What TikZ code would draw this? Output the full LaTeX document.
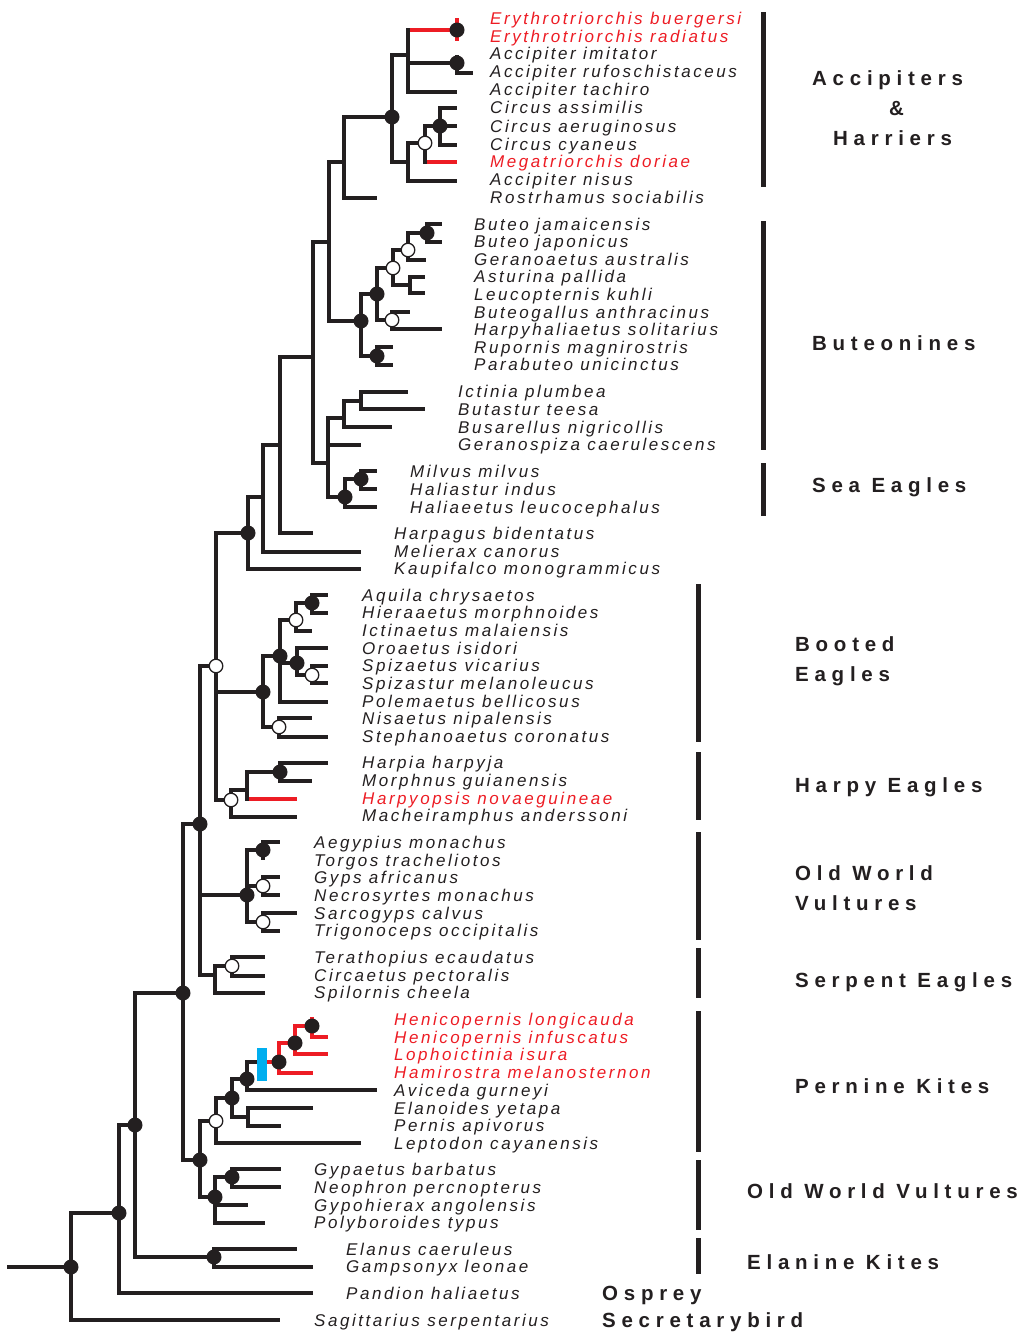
\documentclass[tikz,border=0pt]{standalone}
\usepackage{fontspec}
\setmainfont{Liberation Sans}
\newfontfamily\spfont{Liberation Sans}[LetterSpace=15]
\newfontfamily\grfont{Liberation Sans}[LetterSpace=28]
\definecolor{treeblack}{RGB}{35,31,32}
\definecolor{treered}{RGB}{237,28,36}
\definecolor{treeblue}{RGB}{0,174,239}
\tikzset{
  branch/.style={line width=3.4pt, draw=treeblack},
  redbranch/.style={line width=3.4pt, draw=treered},
  fullnode/.style={fill=treeblack},
  emptynode/.style={fill=white, draw=treeblack, line width=1.3pt},
  species/.style={font=\spfont\itshape\fontsize{17}{17}\selectfont, anchor=base west, inner sep=0pt, text=treeblack},
  group/.style={font=\grfont\bfseries\fontsize{20.5}{20.5}\selectfont, anchor=base west, inner sep=0pt, text=treeblack},
  cladebar/.style={line width=5pt, draw=treeblack}
}
\begin{document}
\begin{tikzpicture}[x=1pt, y=-1pt]
\useasboundingbox (0,0) rectangle (1036,1334);
\foreach \n/\x/\y in {stem/7/1267, R0/71/1267, sag/280/1320, n1/119/1213, pan/313/1293, n2/135/1125,
  e1/214/1257, ela/297/1249, gam/313/1267, n3/183/993, n4/200/824, n5/200/1160,
  pk0/216/1121, gy0/215/1197, gy1/232/1177, gyp/281/1169, neo/281/1187, gyh/248/1205, pol/265/1223,
  pk1/232/1098, lep/361/1143, pk2/247/1079, pk3/248/1117, eld/313/1108, per/281/1126, avi/377/1090,
  pk4/279/1062, pk5/295/1043, pk6/312/1026, ham/313/1073, lop/328/1054, hel/312/1017, hei/328/1037,
  ha0/216/666, ow0/247/895, se0/215/975, se1/232/966, ter/265/957, cir/265/976, spi/265/993,
  ow1/263/850, ow2/263/886, ow3/263/922, aeg/280/842, tor/263/860, gyps/280/877, nec/280/895,
  sar/297/913, tri/280/931, ka0/248/533, bo0/263/692, hp0/231/800, hp1/247/790, mac/297/817,
  hpy/297/799, hp2/280/772, hrp/328/763, mor/312/781, bo1/280/656, bo2/279/727, nsa/312/718,
  ste/328/737, bo3/296/620, bo4/297/663, plm/328/702, bo5/312/603, ictn/312/631, aqu/328/595,
  hie/328/613, oro/328/648, bo6/312/675, spv/328/666, spz/328/683, ka1/263/497, kau/361/569,
  ka2/280/445, mel/361/552, ka3/313/357, hpg/313/533, ac0/329/242, ic0/328/463, ic1/344/418,
  ger/361/445, sea0/345/497, ic2/361/401, bus/392/427, icp/408/392, but/425/409, sea1/361/479,
  hle/377/507, mil/377/471, hlt/377/489, ac1/344/162, bu0/361/321, bu1/377/294, bu2/377/356,
  rup/393/347, pab/393/365, bu3/393/268, bu4/392/320, bga/410/312, hya/442/329, bu5/408/250,
  bu6/410/285, ast/425/277, leu/425/293, bu7/427/233, gea/426/260, bja/442/224, bjp/442/242,
  ac2/392/117, ros/377/198, ac3/408/55, ac4/408/162, er0/457/30, ai0/457/63, tac/457/92,
  ebu/457/18, era/457/41, aim/457/55, aru/473/73, ci0/425/143, ani/457/181, ci1/440/126,
  meg/457/162, cas/457/108, cae/457/126, ccy/457/145, bb/262/1064}
  \coordinate (\n) at (\x,\y);
\draw[branch] (stem) -- (R0);
\foreach \p/\c in {R0/n1, R0/sag, n1/n2, n1/pan, n2/n3, n2/e1, e1/ela, e1/gam, n3/n4, n3/n5,
  n5/pk0, n5/gy0, gy0/gy1, gy0/gyh, gy0/pol, gy1/gyp, gy1/neo, pk0/pk1, pk0/lep, pk1/pk2, pk1/pk3,
  pk3/eld, pk3/per, pk2/pk4, pk2/avi, n4/ha0, n4/ow0, n4/se0, se0/se1, se0/spi, se1/ter, se1/cir,
  ow0/ow1, ow0/ow2, ow0/ow3, ow1/aeg, ow1/tor, ow2/gyps, ow2/nec, ow3/sar, ow3/tri,
  ha0/ka0, ha0/bo0, ha0/hp0, hp0/hp1, hp0/mac, hp1/hpy, hp1/hp2, hp2/hrp, hp2/mor,
  bo0/bo1, bo0/bo2, bo2/nsa, bo2/ste, bo1/bo3, bo1/bo4, bo1/plm, bo3/bo5, bo3/ictn, bo5/aqu, bo5/hie,
  bo4/oro, bo4/bo6, bo6/spv, bo6/spz, ka0/ka1, ka0/kau, ka1/ka2, ka1/mel, ka2/ka3, ka2/hpg,
  ka3/ac0, ka3/ic0, ic0/ic1, ic0/ger, ic0/sea0, ic1/ic2, ic1/bus, ic2/icp, ic2/but, sea0/sea1, sea0/hle,
  sea1/mil, sea1/hlt, ac0/ac1, ac0/bu0, bu0/bu1, bu0/bu2, bu2/rup, bu2/pab, bu1/bu3, bu1/bu4,
  bu4/bga, bu4/hya, bu3/bu5, bu3/bu6, bu6/ast, bu6/leu, bu5/bu7, bu5/gea, bu7/bja, bu7/bjp,
  ac1/ac2, ac1/ros, ac2/ac3, ac2/ac4, ac3/er0, ac3/ai0, ac3/tac, ai0/aim, ai0/aru,
  ac4/ci0, ac4/ani, ci0/ci1, ci0/meg, ci1/cas, ci1/cae, ci1/ccy}
  \draw[branch] (\p) |- (\c);
\foreach \p/\c in {pk4/pk5, pk4/ham, pk5/pk6, pk5/lop, pk6/hel, pk6/hei, er0/ebu, er0/era}
  \draw[redbranch] (\p) |- (\c);
\draw[redbranch] (ac3 |- er0) ++(1.7,0) -- (er0);
\draw[redbranch] (ci0 |- meg) ++(1.7,0) -- (meg);
\draw[redbranch] (hp1 |- hpy) ++(1.7,0) -- (hpy);
\draw[redbranch] (bb |- pk4) -- (pk4);
\fill[treeblue] (bb) ++(-5,-16.5) rectangle ++(10,33);
\foreach \n in {R0, n1, n2, n3, e1, n4, n5, gy0, gy1, pk1, pk2, pk4, pk5, pk6, ow0, ow1, bo0, bo1,
  bo4, bo5, hp2, ka0, sea0, sea1, bu0, bu1, bu2, bu7, ac2, er0, ai0, ci1}
  \fill[fullnode] (\n) circle (7.5pt);
\foreach \n in {pk0, se1, ow2, ow3, ha0, hp0, bo2, bo3, bo6, bu3, bu4, bu5, ci0}
  \draw[emptynode] (\n) circle (6.8pt);
\foreach \x/\y/\t [count=\i] in {490/53/Accipiter imitator, 490/71/Accipiter rufoschistaceus,
  490/89/Accipiter tachiro, 490/107/Circus assimilis, 490/126/Circus aeruginosus,
  490/144/Circus cyaneus, 490/179/Accipiter nisus, 490/197/Rostrhamus sociabilis,
  474/224/Buteo jamaicensis, 474/241/Buteo japonicus, 474/259/Geranoaetus australis,
  474/276/Asturina pallida, 474/294/Leucopternis kuhli, 474/312/Buteogallus anthracinus,
  474/329/Harpyhaliaetus solitarius, 474/347/Rupornis magnirostris, 474/364/Parabuteo unicinctus,
  458/391/Ictinia plumbea, 458/409/Butastur teesa, 458/427/Busarellus nigricollis,
  458/444/Geranospiza caerulescens, 410/471/Milvus milvus, 410/489/Haliastur indus,
  410/507/Haliaeetus leucocephalus, 394/533/Harpagus bidentatus, 394/551/Melierax canorus,
  394/568/Kaupifalco monogrammicus, 362/595/Aquila chrysaetos, 362/612/Hieraaetus morphnoides,
  362/630/Ictinaetus malaiensis, 362/648/Oroaetus isidori, 362/665/Spizaetus vicarius,
  362/683/Spizastur melanoleucus, 362/701/Polemaetus bellicosus, 362/718/Nisaetus nipalensis,
  362/736/Stephanoaetus coronatus, 362/762/Harpia harpyja, 362/780/Morphnus guianensis,
  362/815/Macheiramphus anderssoni, 314/842/Aegypius monachus, 314/860/Torgos tracheliotos,
  314/877/Gyps africanus, 314/895/Necrosyrtes monachus, 314/913/Sarcogyps calvus,
  314/930/Trigonoceps occipitalis, 314/957/Terathopius ecaudatus, 314/975/Circaetus pectoralis,
  314/992/Spilornis cheela, 394/1090/Aviceda gurneyi, 394/1108/Elanoides yetapa,
  394/1125/Pernis apivorus, 394/1143/Leptodon cayanensis, 314/1169/Gypaetus barbatus,
  314/1187/Neophron percnopterus, 314/1205/Gypohierax angolensis, 314/1222/Polyboroides typus,
  346/1249/Elanus caeruleus, 346/1266/Gampsonyx leonae, 346/1293/Pandion haliaetus,
  314/1320/Sagittarius serpentarius}
  \node[species] (sp\i) at (\x,\y+6) {\t};
\foreach \x/\y/\t [count=\i] in {490/18/Erythrotriorchis buergersi, 490/36/Erythrotriorchis radiatus,
  490/161/Megatriorchis doriae, 362/798/Harpyopsis novaeguineae, 394/1019/Henicopernis longicauda,
  394/1037/Henicopernis infuscatus, 394/1054/Lophoictinia isura, 394/1072/Hamirostra melanosternon}
  \node[species, text=treered] (rsp\i) at (\x,\y+6) {\t};
\foreach \x/\a/\b in {763/12/187, 763/221/450, 763/463/516, 698/584/742, 698/752/820, 698/832/940,
  698/948/998, 698/1011/1152, 698/1160/1230, 698/1238/1274}
  \draw[cladebar] (\x,\a) -- (\x,\b);
\foreach \x/\y/\t [count=\i] in {812/78/Accipiters, 889/108/\&, 833/138/Harriers, 812/343/Buteonines,
  812/485/Sea Eagles, 795/644/Booted, 795/674/Eagles, 795/785/Harpy Eagles, 795/873/Old World,
  795/903/Vultures, 795/980/Serpent Eagles, 795/1086/Pernine Kites, 747/1191/Old World Vultures,
  747/1262/Elanine Kites, 602/1293/Osprey, 602/1320/Secretarybird}
  \node[group] (gr\i) at (\x,\y+7.5) {\t};
\end{tikzpicture}
\end{document}
